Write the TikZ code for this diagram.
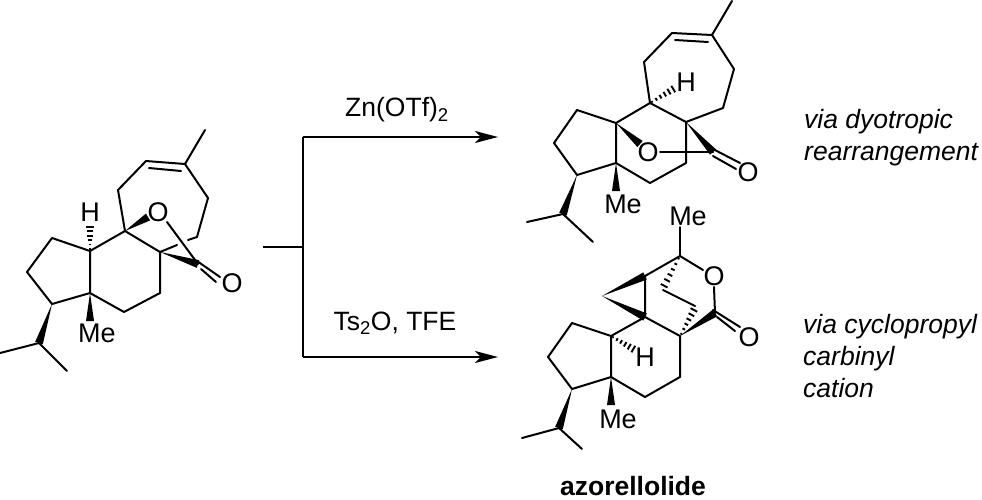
\documentclass[tikz,border=0pt]{standalone}
\usepackage{fontspec}
\setmainfont{Liberation Sans}
\usetikzlibrary{arrows.meta,positioning,calc}
% wedge and hashed bonds, narrow end first
\newcommand{\wedgebond}[2]{\fill (#1) -- ($(#2)!4pt!90:(#1)$) -- ($(#2)!4pt!-90:(#1)$) -- cycle;}
\newcommand{\hashbond}[2]{\foreach \t in {0.08,0.25,...,1.0} {\pgfmathsetmacro\w{0.6+3.4*\t}\draw[line width=1.9pt] ($(#1)!\t!(#2)!\w pt!90:(#2)$) -- ($(#1)!\t!(#2)!\w pt!-90:(#2)$);}}
\tikzset{
  bond/.style={line width=2pt,line join=round,line cap=round},
  atomlabel/.style={inner sep=0pt,font=\fontsize{27}{30}\selectfont},
  reagent/.style={inner sep=0pt,font=\fontsize{26.5}{30}\selectfont},
  remark/.style={inner sep=0pt,anchor=base west,font=\fontsize{26.5}{30}\selectfont\itshape},
  rxnline/.style={line width=1.8pt},
  rxnarrow/.style={line width=1.8pt,-{Stealth[length=23pt,width=12pt,inset=6pt]}}
}
\begin{document}
\begin{tikzpicture}[x=1pt,y=-1pt]
\useasboundingbox (0,0) rectangle (982,499);
% starting material
\coordinate (a1) at (0,353);
\coordinate (a2) at (39,343);
\coordinate (a3) at (67,371);
\coordinate (a4) at (52,304);
\coordinate (a5) at (27,272);
\coordinate (a6) at (52,238);
\coordinate (a7) at (90,251);
\coordinate (a8) at (90,293);
\coordinate (a9) at (124,312);
\coordinate (a10) at (160,293);
\coordinate (a11) at (160,252);
\coordinate (a12) at (125,231);
\coordinate (a13) at (118,190);
\coordinate (a14) at (146,161);
\coordinate (a15) at (185,164);
\coordinate (a16) at (205,130);
\coordinate (a17) at (208,198);
\coordinate (a18) at (197,237);
\coordinate (a19) at (188,240);
\coordinate (a20) at (177,245);
\coordinate (a21) at (198,264);
\coordinate (a22) at (148,217);
\coordinate (a23) at (167,222);
\coordinate (a25) at (90,225);
\coordinate (a26) at (90,321);
\node[atomlabel] (ah) at (90,212) {H};
\node[atomlabel] (ao) at (158,212) {O};
\node[atomlabel] (ao2) at (232,283) {O};
\node[atomlabel] (ame) at (97,333) {Me};
\draw[bond] (a1) -- (a2) -- (a3);
\draw[bond] (a4) -- (a5) -- (a6) -- (a7) -- (a8) -- (a4);
\draw[bond] (a7) -- (a12) -- (a11) -- (a10) -- (a9) -- (a8);
\draw[bond] (a12) -- (a13) -- (a14) -- (a15) -- (a17) -- (a18) -- (a19);
\draw[bond] (a15) -- (a16);
\draw[bond] (149,168) -- (181,171);
\draw[bond] (a20) -- (a11);
\draw[bond] (a23) -- (a21);
\draw[bond] (197,261) -- (220,277);
\draw[bond] (201,269) -- (216,282);
\wedgebond{a4}{a2}
\wedgebond{a12}{a22}
\wedgebond{a11}{a21}
\wedgebond{a8}{a26}
\hashbond{a7}{a25}
% arrows
\coordinate (b1) at (263,247);
\coordinate (b2) at (303,247);
\coordinate (b3) at (303,137);
\coordinate (b4) at (303,357);
\coordinate (b5) at (498,137);
\coordinate (b6) at (498,357);
\draw[rxnline] (b1) -- (b2);
\draw[rxnline] (b3) -- (b4);
\draw[rxnarrow] (b3) -- (b5);
\draw[rxnarrow] (b4) -- (b6);
\node[reagent] (zn) at (397,110) {Zn(OTf)\textsubscript{2}};
\node[reagent] (ts) at (395,323) {Ts\textsubscript{2}O, TFE};
% top product
\coordinate (c1) at (527,222);
\coordinate (c2) at (563,214);
\coordinate (c3) at (593,242);
\coordinate (c4) at (577,175);
\coordinate (c5) at (554,143);
\coordinate (c6) at (577,110);
\coordinate (c7) at (616,123);
\coordinate (c8) at (616,163);
\coordinate (c9) at (650,183);
\coordinate (c10) at (686,163);
\coordinate (c11) at (686,122);
\coordinate (c12) at (650,103);
\coordinate (c13) at (644,62);
\coordinate (c14) at (672,33);
\coordinate (c15) at (712,35);
\coordinate (c16) at (732,1);
\coordinate (c17) at (734,69);
\coordinate (c18) at (723,108);
\coordinate (c19) at (713,152);
\coordinate (c20) at (640,144);
\coordinate (c21) at (660,152);
\coordinate (c22) at (675,88);
\coordinate (c23) at (616,191);
\node[atomlabel] (ch) at (686,82) {H};
\node[atomlabel] (co) at (648,152) {O};
\node[atomlabel] (co2) at (748,172) {O};
\node[atomlabel] (cme) at (623,204) {Me};
\draw[bond] (c1) -- (c2) -- (c3);
\draw[bond] (c4) -- (c5) -- (c6) -- (c7) -- (c8) -- (c4);
\draw[bond] (c7) -- (c12) -- (c11) -- (c10) -- (c9) -- (c8);
\draw[bond] (c12) -- (c13) -- (c14) -- (c15) -- (c17) -- (c18) -- (c11);
\draw[bond] (c15) -- (c16);
\draw[bond] (675,40) -- (708,42);
\draw[bond] (c21) -- (c19);
\draw[bond] (711,148) -- (740,163);
\draw[bond] (713,156) -- (736,169);
\wedgebond{c4}{c2}
\wedgebond{c7}{c20}
\wedgebond{c11}{c19}
\wedgebond{c8}{c23}
\hashbond{c12}{c22}
% azorellolide
\coordinate (d1) at (522,438);
\coordinate (d2) at (559,428);
\coordinate (d3) at (582,449);
\coordinate (d4) at (572,389);
\coordinate (d5) at (548,357);
\coordinate (d6) at (572,323);
\coordinate (d7) at (611,336);
\coordinate (d8) at (611,377);
\coordinate (d9) at (645,397);
\coordinate (d10) at (680,377);
\coordinate (d11) at (680,336);
\coordinate (d12) at (645,317);
\coordinate (d13) at (645,276);
\coordinate (d14) at (602,296);
\coordinate (d15) at (680,256);
\coordinate (d16) at (680,227);
\coordinate (d17) at (703,270);
\coordinate (d18) at (714,287);
\coordinate (d19) at (715,313);
\coordinate (d20) at (663,288);
\coordinate (d21) at (663,290);
\coordinate (d22) at (695,306);
\coordinate (d23) at (695,308);
\coordinate (d24) at (635,350);
\coordinate (d25) at (611,405);
\node[atomlabel] (dme) at (688,216) {Me};
\node[atomlabel] (do) at (714,276) {O};
\node[atomlabel] (do2) at (749,337) {O};
\node[atomlabel] (dh) at (645,357) {H};
\node[atomlabel] (dme2) at (618,419) {Me};
\draw[bond] (d1) -- (d2) -- (d3);
\draw[bond] (d4) -- (d5) -- (d6) -- (d7) -- (d8) -- (d4);
\draw[bond] (d7) -- (d12) -- (d11) -- (d10) -- (d9) -- (d8);
\draw[bond] (d12) -- (d13) -- (d15) -- (d17);
\draw[bond] (d15) -- (d16);
\draw[bond] (d18) -- (d19);
\draw[bond] (d21) -- (d22);
\draw[bond] (713,310) -- (740,327);
\draw[bond] (717,317) -- (735,331);
\wedgebond{d14}{d13}
\wedgebond{d14}{d12}
\wedgebond{d11}{d19}
\wedgebond{d4}{d2}
\wedgebond{d8}{d25}
\hashbond{d7}{d24}
\hashbond{d15}{d20}
\hashbond{d11}{d23}
% remarks
\node[remark] (r1) at (804,128) {via dyotropic};
\node[remark] (r2) at (804,160) {rearrangement};
\node[remark] (r3) at (803,333) {via cyclopropyl};
\node[remark] (r4) at (803,365) {carbinyl};
\node[remark] (r5) at (803,397) {cation};
\node[inner sep=0pt,font=\fontsize{26.5}{30}\selectfont\bfseries] (name) at (633,486) {azorellolide};
\end{tikzpicture}
\end{document}
